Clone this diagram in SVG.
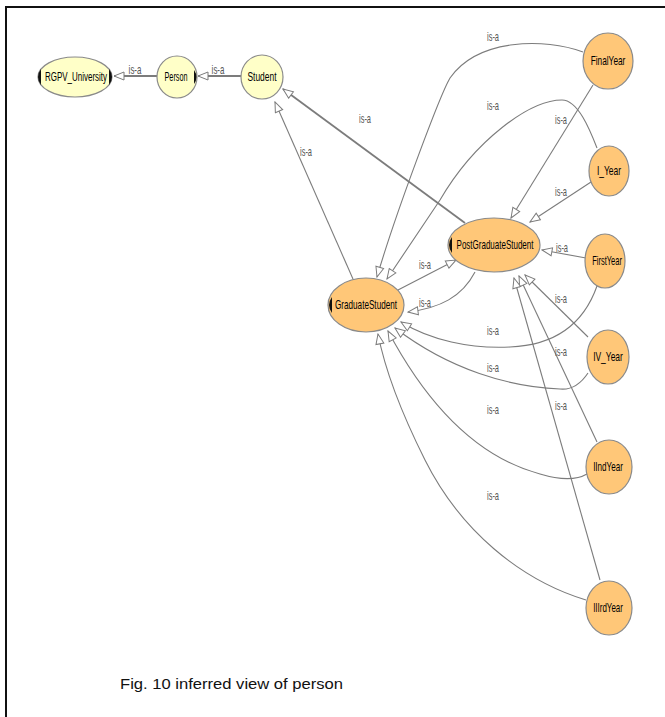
<svg xmlns="http://www.w3.org/2000/svg" width="665" height="717" viewBox="0 0 665 717">
<style>
.e{fill:none;stroke:#7c7c7c;stroke-width:1.1;marker-end:url(#tri)}
.ew{stroke-width:1.8}
.lbl{font-family:"Liberation Sans",Arial,sans-serif;font-size:12px;fill:#555;text-anchor:middle}
.nt{font-family:"Liberation Sans",Arial,sans-serif;font-size:13px;fill:#000;text-anchor:middle}
.y{fill:#FFFFC8;stroke:#8a8a8a;stroke-width:1.2}
.o{fill:#FFC778;stroke:#8a8a8a;stroke-width:1.2}
.mk{fill:#111}
</style>
<defs>
<marker id="tri" viewBox="0 0 12 10" markerWidth="12" markerHeight="10" refX="11" refY="5" orient="auto" markerUnits="userSpaceOnUse">
<path d="M1,1 L11,5 L1,9 Z" fill="#fff" stroke="#7c7c7c" stroke-width="1"/>
</marker>
</defs>
<rect width="665" height="717" fill="#fff"/>
<path d="M6,717 L6,7 L665,7" fill="none" stroke="#111" stroke-width="2"/>
<g id="connectors">
<path class="e ew" d="M157,76 L114,76"/>
<path class="e ew" d="M241,76 L198,76"/>
<path class="e" d="M353,279 L275,102"/>
<path class="e ew" d="M465,223 L283,89"/>
<path class="e" d="M398,290 L456,260"/>
<path class="e" d="M475,272 C462,297 440,308 408,312"/>
<path class="e" d="M583,52 C545,38 478,38 450,78 C440,95 395,215 377,277"/>
<path class="e" d="M593,85 L511,218"/>
<path class="e" d="M591,182 L530,222"/>
<path class="e" d="M597,148 C590,130 578,100 562,100 C530,100 475,140 440,200 L387,279"/>
<path class="e" d="M586,258 L542,250"/>
<path class="e" d="M597,286 C585,320 560,345 510,347 C470,349 430,340 401,322"/>
<path class="e" d="M588,337 L525,275"/>
<path class="e" d="M588,373 C580,385 570,390 560,389 C510,387 450,370 395,328"/>
<path class="e" d="M597,442 L519,276"/>
<path class="e" d="M587,474 C575,481 560,480 540,474 C480,458 430,410 388,331"/>
<path class="e" d="M600,580 L514,278"/>
<path class="e" d="M586,600 C520,580 460,530 425,460 C400,410 385,370 378,334"/>
</g>
<g id="edge-labels">
<text class="lbl" transform="translate(135,74) scale(0.66,1)">is-a</text>
<text class="lbl" transform="translate(218,74) scale(0.66,1)">is-a</text>
<text class="lbl" transform="translate(306,156) scale(0.62,1)">is-a</text>
<text class="lbl" transform="translate(365,123) scale(0.62,1)">is-a</text>
<text class="lbl" transform="translate(425,269) scale(0.62,1)">is-a</text>
<text class="lbl" transform="translate(425,307) scale(0.62,1)">is-a</text>
<text class="lbl" transform="translate(493,41) scale(0.62,1)">is-a</text>
<text class="lbl" transform="translate(493,110) scale(0.62,1)">is-a</text>
<text class="lbl" transform="translate(561,124) scale(0.62,1)">is-a</text>
<text class="lbl" transform="translate(561,196) scale(0.62,1)">is-a</text>
<text class="lbl" transform="translate(562,252) scale(0.62,1)">is-a</text>
<text class="lbl" transform="translate(561,303) scale(0.62,1)">is-a</text>
<text class="lbl" transform="translate(561,356) scale(0.62,1)">is-a</text>
<text class="lbl" transform="translate(561,410) scale(0.62,1)">is-a</text>
<text class="lbl" transform="translate(493,335) scale(0.62,1)">is-a</text>
<text class="lbl" transform="translate(493,372) scale(0.62,1)">is-a</text>
<text class="lbl" transform="translate(493,414) scale(0.62,1)">is-a</text>
<text class="lbl" transform="translate(493,500) scale(0.62,1)">is-a</text>
</g>
<g id="RGPV_University">
<ellipse class="y" cx="75" cy="77" rx="37" ry="20"/>
<path class="mk" d="M41,69 Q35,77 41,85 Z"/>
<path class="mk" d="M109,69 Q115,77 109,85 Z"/>
<text class="nt" transform="translate(76,81) scale(0.62,1)" textLength="100" lengthAdjust="spacingAndGlyphs">RGPV_University</text>
</g>
<g id="Person">
<ellipse class="y" cx="177" cy="77" rx="20" ry="21"/>
<path class="mk" d="M194,70 Q199,77 194,84 Z"/>
<text class="nt" transform="translate(176,81) scale(0.62,1)" textLength="37" lengthAdjust="spacingAndGlyphs">Person</text>
</g>
<g id="Student">
<ellipse class="y" cx="262" cy="77" rx="21" ry="22"/>
<text class="nt" transform="translate(262,81) scale(0.62,1)" textLength="47" lengthAdjust="spacingAndGlyphs">Student</text>
</g>
<g id="FinalYear">
<ellipse class="o" cx="608" cy="61" rx="25" ry="28"/>
<text class="nt" transform="translate(608,65) scale(0.62,1)" textLength="56" lengthAdjust="spacingAndGlyphs">FinalYear</text>
</g>
<g id="I_Year">
<ellipse class="o" cx="609" cy="171" rx="20" ry="25"/>
<text class="nt" transform="translate(609,175) scale(0.62,1)" textLength="39" lengthAdjust="spacingAndGlyphs">I_Year</text>
</g>
<g id="FirstYear">
<ellipse class="o" cx="605" cy="261" rx="20" ry="27"/>
<text class="nt" transform="translate(607,265) scale(0.62,1)" textLength="48" lengthAdjust="spacingAndGlyphs">FirstYear</text>
</g>
<g id="IV_Year">
<ellipse class="o" cx="608" cy="357" rx="21" ry="27"/>
<text class="nt" transform="translate(608,361) scale(0.62,1)" textLength="48" lengthAdjust="spacingAndGlyphs">IV_Year</text>
</g>
<g id="IIndYear">
<ellipse class="o" cx="609" cy="467" rx="23" ry="27"/>
<text class="nt" transform="translate(608,471) scale(0.62,1)" textLength="48" lengthAdjust="spacingAndGlyphs">IIndYear</text>
</g>
<g id="IIIrdYear">
<ellipse class="o" cx="609" cy="608" rx="23" ry="27"/>
<text class="nt" transform="translate(608,612) scale(0.62,1)" textLength="48" lengthAdjust="spacingAndGlyphs">IIIrdYear</text>
</g>
<g id="PostGraduateStudent">
<ellipse class="o" cx="494" cy="245" rx="46" ry="27"/>
<path class="mk" d="M452,237 Q446,245 452,253 Z"/>
<text class="nt" transform="translate(495,249) scale(0.62,1)" textLength="124" lengthAdjust="spacingAndGlyphs">PostGraduateStudent</text>
</g>
<g id="GraduateStudent">
<ellipse class="o" cx="366" cy="305" rx="38" ry="27"/>
<path class="mk" d="M332,297 Q326,305 332,313 Z"/>
<text class="nt" transform="translate(366,309) scale(0.62,1)" textLength="100" lengthAdjust="spacingAndGlyphs">GraduateStudent</text>
</g>
<text x="120" y="689" font-family="Liberation Sans, Arial, sans-serif" font-size="15" fill="#111" textLength="223" lengthAdjust="spacingAndGlyphs">Fig. 10 inferred view of person</text>
</svg>
